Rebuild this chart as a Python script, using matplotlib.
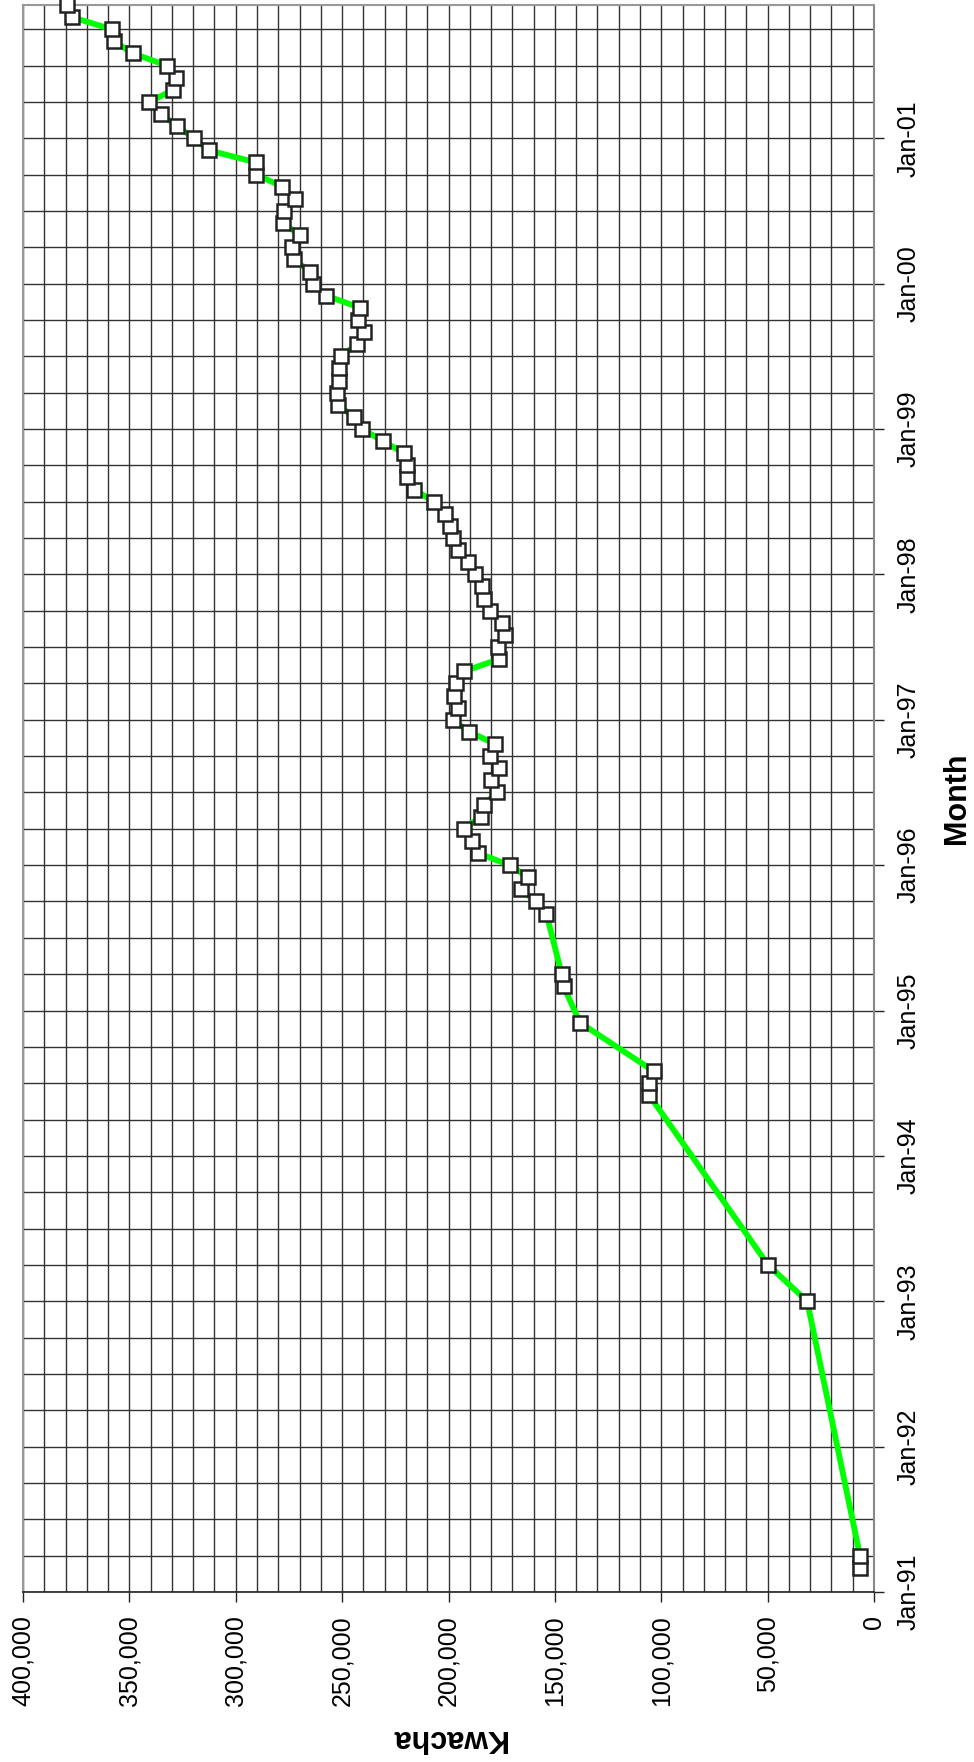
import matplotlib
matplotlib.use("Agg")
import matplotlib.pyplot as plt
from matplotlib.ticker import MultipleLocator, FixedLocator, StrMethodFormatter

plt.rcParams['font.family'] = ['Liberation Sans', 'DejaVu Sans']

# monthly observations (YYYY-MM) and value in Kwacha
dates = [
    "1991-03", "1991-04", "1993-01", "1993-04", "1994-06", "1994-07", "1994-08",
    "1994-12", "1995-03", "1995-04", "1995-09", "1995-10", "1995-11", "1995-12",
    "1996-01", "1996-02", "1996-03", "1996-04", "1996-05", "1996-06", "1996-07",
    "1996-08", "1996-09", "1996-10", "1996-11", "1996-12",
    "1997-01", "1997-02", "1997-03", "1997-04", "1997-05", "1997-06", "1997-07",
    "1997-08", "1997-09", "1997-10", "1997-11", "1997-12",
    "1998-01", "1998-02", "1998-03", "1998-04", "1998-05", "1998-06", "1998-07",
    "1998-08", "1998-09", "1998-10", "1998-11", "1998-12",
    "1999-01", "1999-02", "1999-03", "1999-04", "1999-05", "1999-06", "1999-07",
    "1999-08", "1999-09", "1999-10", "1999-11", "1999-12",
    "2000-01", "2000-02", "2000-03", "2000-04", "2000-05", "2000-06", "2000-07",
    "2000-08", "2000-09", "2000-10", "2000-11", "2000-12",
    "2001-01", "2001-02", "2001-03", "2001-04", "2001-05", "2001-06", "2001-07",
    "2001-08", "2001-09", "2001-10", "2001-11", "2001-12",
]
kwacha = [
    6500, 6600, 31400, 49800, 105600, 105600, 103600,
    138200, 145900, 146800, 154000, 159100, 166100, 162600,
    171300, 186300, 189100, 192700, 184900, 183400, 177200,
    180200, 176300, 180700, 178100, 190200,
    198100, 195400, 197500, 196500, 192700, 176300, 176500,
    173400, 175000, 180400, 183400, 184300,
    187700, 190900, 195400, 198100, 199100, 201800, 206800,
    216100, 219700, 219700, 220800, 230800,
    240600, 244500, 252100, 252500, 251600, 251600, 250700,
    243000, 239700, 242500, 241400, 257400,
    263500, 265100, 272700, 273500, 269800, 277800, 277400,
    272100, 278100, 290300, 290300, 312600,
    319600, 327700, 335000, 340600, 329300, 328200, 332300,
    348300, 357200, 358300, 377100, 379150,
]
year_labels = ["Jan-91", "Jan-92", "Jan-93", "Jan-94", "Jan-95", "Jan-96",
               "Jan-97", "Jan-98", "Jan-99", "Jan-00", "Jan-01"]

# months counted from Jan-91
month_idx = [(int(d[:4]) - 1991) * 12 + int(d[5:]) - 1 for d in dates]

fig = plt.figure(figsize=(9.74, 17.62), dpi=100)
ax = fig.add_axes([23 / 974, 1 - 1592 / 1762, 851 / 974, 1587 / 1762])

# chart is drawn turned a quarter turn: value runs right-to-left, time runs upward
ax.plot(kwacha, month_idx, color='#00ff00', lw=4.2, marker='s', ms=9.4,
        mfc='white', mec='#222222', mew=1.8, clip_on=False, zorder=3)

ax.set_xlim(400000, 0)
ax.set_ylim(0, 131)

ax.xaxis.set_major_locator(MultipleLocator(50000))
ax.xaxis.set_minor_locator(MultipleLocator(10000))
ax.xaxis.set_major_formatter(StrMethodFormatter('{x:,.0f}'))

ax.yaxis.tick_right()
ax.yaxis.set_major_locator(FixedLocator(range(0, 121, 12)))
ax.set_yticklabels(year_labels)
ax.yaxis.set_minor_locator(MultipleLocator(3))

ax.tick_params(axis='both', which='major', length=7.5, width=1.0, color='#222222',
               labelsize=18, pad=9, direction='out')
ax.tick_params(axis='both', which='minor', length=0)
ax.tick_params(axis='x', labelrotation=90)
ax.tick_params(axis='y', labelrotation=90)
for lab in ax.get_xticklabels():
    lab.set_ha('center')
    lab.set_va('top')
for lab in ax.get_yticklabels():
    lab.set_ha('left')
    lab.set_va('center')

ax.grid(which='both', color='#333333', lw=1.0)
ax.set_axisbelow(True)

for side in ['top', 'left']:
    ax.spines[side].set_color('#999999')
    ax.spines[side].set_linewidth(1.5)
ax.spines['right'].set_color('#888888')
ax.spines['right'].set_linewidth(1.5)
ax.spines['bottom'].set_color('#222222')
ax.spines['bottom'].set_linewidth(1.2)

ax.set_xlabel('Kwacha', rotation=180, fontweight='bold', fontsize=22,
              ha='center', va='center')
ax.xaxis.set_label_coords(0.5, -(1737.5 - 1592) / 1587)
ax.yaxis.set_label_position('right')
ax.set_ylabel('Month', rotation=90, fontweight='bold', fontsize=22,
              ha='center', va='center')
ax.yaxis.set_label_coords((957.5 - 23) / 851, 0.5)

fig.savefig('out.png', dpi=100)
